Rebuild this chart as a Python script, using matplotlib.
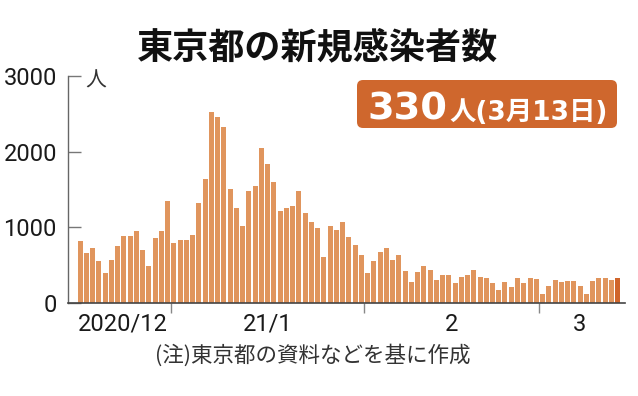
import pandas as pd
import matplotlib
matplotlib.use("Agg")
import matplotlib.pyplot as plt
from matplotlib import font_manager
from matplotlib.patches import FancyBboxPatch

# daily new cases in Tokyo, 2020-12-17 .. 2021-03-13
start_date = "2020-12-17"
cases_dec = [821, 662, 733, 556, 393, 570, 751, 892, 883, 949, 706, 490, 865, 958, 1351]
cases_jan = [790, 830, 826, 905, 1316, 1638, 2525, 2459, 2331, 1510, 1254, 1024, 1479, 1550,
             2049, 1841, 1594, 1214, 1249, 1285, 1479, 1183, 1077, 985, 614, 1024, 971, 1064,
             870, 768, 631]
cases_feb = [393, 556, 680, 733, 574, 636, 428, 274, 411, 490, 433, 305, 366, 366,
             260, 344, 375, 441, 349, 327, 269, 177, 274, 207, 336, 260, 336, 322]
cases_mar = [115, 225, 309, 274, 296, 291, 230, 115, 287, 336, 331, 300, 330]
month_labels = ["2020/12", "21/1", "2", "3"]
y_ticks = [0, 1000, 2000, 3000]

cases = cases_dec + cases_jan + cases_feb + cases_mar
dates = pd.date_range(start_date, periods=len(cases), freq="D")

names = {f.name for f in font_manager.fontManager.ttflist}
if "Liberation Sans Narrow" in names:
    num_font, num_size = "Liberation Sans Narrow", 20
else:
    num_font, num_size = "Roboto", 17
jp = "Noto Sans CJK JP"

bar_col = "#e0955d"
last_col = "#d0652b"
box_col = "#cf672d"

fig = plt.figure(figsize=(6.38, 3.96), dpi=100)
ax = fig.add_axes([68 / 638, 1 - 303 / 396, (625 - 68) / 638, (303 - 76) / 396])

x = list(range(len(cases)))
colors = [bar_col] * (len(cases) - 1) + [last_col]
ax.bar(x, cases, width=0.8, color=colors, linewidth=0)

ax.set_ylim(0, 3000)
ax.set_xlim(-1.92, len(cases) + 0.2)

# month boundaries and label centres
months = dates.to_period("M")
bounds = [i - 0.5 for i in range(1, len(dates)) if months[i] != months[i - 1]]
edges = [-0.5] + bounds + [len(dates) - 0.5]
centres = [(edges[i] + edges[i + 1]) / 2 for i in range(len(edges) - 1)]
centres[0] = (ax.get_xlim()[0] + edges[1]) / 2 + 0.5

ax.set_xticks(bounds)
ax.set_xticklabels([])
ax.set_xticks(centres, minor=True)
ax.set_xticklabels(month_labels, minor=True, fontsize=num_size, family=num_font,
                   color="#1a1a1a")
ax.tick_params(axis="x", which="major", direction="out", length=7, width=1, color="#888")
ax.tick_params(axis="x", which="minor", length=0, pad=7)

ax.set_yticks(y_ticks)
ax.set_yticklabels([str(v) for v in y_ticks], fontsize=num_size, family=num_font,
                   color="#1a1a1a")
ax.tick_params(axis="y", direction="in", length=9, width=1, color="#777", pad=8)

for s in ["top", "right"]:
    ax.spines[s].set_visible(False)
ax.spines["left"].set_color("#666")
ax.spines["bottom"].set_color("#444")
ax.spines["left"].set_linewidth(1)
ax.spines["bottom"].set_linewidth(1.2)

fig.text(96 / 638, 1 - 81 / 396, "人", fontsize=15, family=jp, color="#333",
         ha="center", va="center")

fig.text(318 / 638, 1 - 48 / 396, "東京都の新規感染者数", fontsize=26, family=jp,
         weight="bold", color="#111", ha="center", va="center")

# highlighted latest value
box = FancyBboxPatch((3.57, 2.68), 2.60, 0.48, boxstyle="round,pad=0,rounding_size=0.06",
                     transform=fig.dpi_scale_trans, facecolor=box_col, edgecolor="none")
fig.add_artist(box)
fig.text(3.67, 2.76, str(cases[-1]), transform=fig.dpi_scale_trans, fontsize=27.5,
         family="DejaVu Sans", weight="bold", color="white", ha="left", va="baseline")
fig.text(4.49, 2.76, "人(3月13日)", transform=fig.dpi_scale_trans, fontsize=19,
         family=["DejaVu Sans", jp], weight="bold", color="white", ha="left", va="baseline")

fig.text(313 / 638, 1 - 355 / 396, "(注)東京都の資料などを基に作成", fontsize=15.5,
         family=jp, color="#333", ha="center", va="center")

fig.savefig("out.png", dpi=100)
